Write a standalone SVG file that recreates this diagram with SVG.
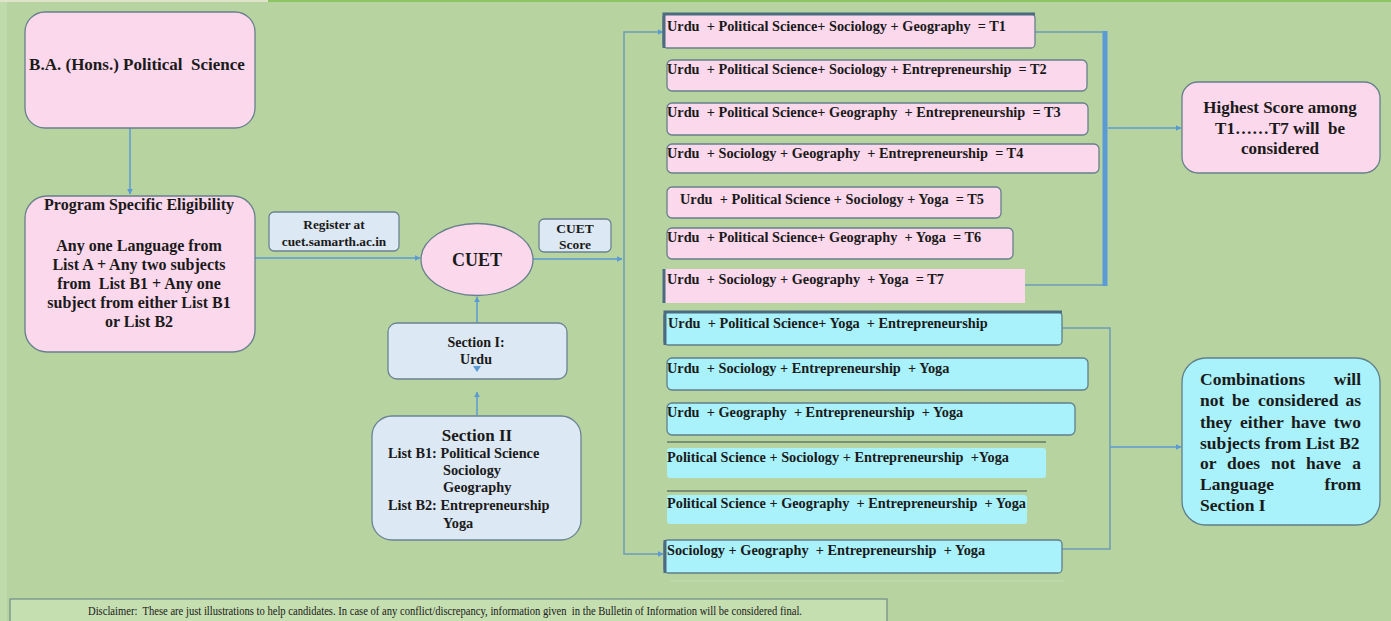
<svg xmlns="http://www.w3.org/2000/svg" width="1391" height="621" viewBox="0 0 1391 621">
<style>
text{font-family:"Liberation Serif","Times New Roman",serif;font-weight:bold;fill:#1a1a1a;white-space:pre}
text.norm{font-weight:normal}
.pk{fill:#fbd8ec;stroke:#687f8c;stroke-width:1.3}
.cy{fill:#a9f2fb;stroke:#5f7f8c;stroke-width:1.3}
.lb{fill:#dce8f3;stroke:#6a8393;stroke-width:1.3}
.row{font-size:14.3px}
.bar{fill:none;stroke:#4a6b80;stroke-width:3}
.ln{fill:none;stroke:#5b9bd5;stroke-width:1.5}
.ln2{fill:none;stroke:#6c9db5;stroke-width:1.5}
.c{text-anchor:middle}
.big{font-size:16px}
</style>
<defs>
<marker id="ah" viewBox="0 0 10 10" refX="9" refY="5" markerWidth="6" markerHeight="6" orient="auto" markerUnits="userSpaceOnUse">
<path d="M0,0 L10,5 L0,10 z" fill="#5b9bd5"/>
</marker>
</defs>
<rect width="1391" height="621" fill="#b6d3a0"/>
<rect x="0" y="0" width="7" height="621" fill="#bfdaab"/>
<rect x="0" y="0" width="268" height="2" fill="#dfe3c9"/>
<rect x="268" y="0" width="1123" height="2" fill="#8cc562"/>

<g id="connectors">
<path class="ln" d="M130,128 V194" marker-end="url(#ah)"/>
<path class="ln" d="M255,258 H420" marker-end="url(#ah)"/>
<path class="ln" d="M533,259 H622" marker-end="url(#ah)"/>
<path class="ln" d="M477,323 V297" marker-end="url(#ah)"/>
<path class="ln" d="M477,415 V392" marker-end="url(#ah)"/>
<path class="ln2" d="M624,259 V32 H663" marker-end="url(#ah)"/>
<path class="ln2" d="M624,259 V554 H663" marker-end="url(#ah)"/>
<path class="ln2" d="M1035,32 H1105 M1025,285 H1105"/>
<path d="M1105,31 V286" stroke="#5b9bd5" stroke-width="5" fill="none"/>
<path class="ln" d="M1108,128 H1181" marker-end="url(#ah)"/>
<path class="ln2" d="M1062,328 H1110 V549 H1062"/>
<path class="ln" d="M1110,447 H1181" marker-end="url(#ah)"/>
</g>

<g id="ba">
<rect class="pk" x="25" y="12" width="230" height="116" rx="20"/>
<text class="c" x="137" y="70" font-size="17">B.A. (Hons.) Political  Science</text>
</g>

<g id="eligibility">
<rect class="pk" x="25" y="196" width="230" height="156" rx="22"/>
<text class="c big" x="139" y="210">Program Specific Eligibility</text>
<text class="c big" x="139" y="251">Any one Language from</text>
<text class="c big" x="139" y="270">List A + Any two subjects</text>
<text class="c big" x="139" y="289">from  List B1 + Any one</text>
<text class="c big" x="139" y="308">subject from either List B1</text>
<text class="c big" x="139" y="327">or List B2</text>
</g>

<g id="register">
<rect class="lb" x="269" y="212" width="130" height="39" rx="5"/>
<text class="c" x="334" y="229" font-size="13.3">Register at</text>
<text class="c" x="334" y="246" font-size="13.3">cuet.samarth.ac.in</text>
</g>

<g id="cuet">
<ellipse cx="477" cy="259.5" rx="56" ry="36" fill="#fbd8ec" stroke="#687f8c" stroke-width="1.3"/>
<text class="c" x="477" y="266" font-size="18">CUET</text>
</g>

<g id="score">
<rect class="lb" x="539" y="219" width="72" height="33" rx="5"/>
<text class="c" x="575" y="233" font-size="13.5">CUET</text>
<text class="c" x="575" y="249" font-size="13.5">Score</text>
</g>

<g id="section1">
<rect class="lb" x="388" y="323" width="179" height="56" rx="9"/>
<text class="c" x="476" y="347" font-size="14">Section I:</text>
<text class="c" x="476" y="364" font-size="14">Urdu</text>
<path d="M473,366 L481,366 L477,372 z" fill="#5b9bd5"/>
</g>

<g id="section2">
<rect class="lb" x="372" y="416" width="209" height="124" rx="20"/>
<text class="c" x="477" y="441" font-size="17">Section II</text>
<text x="388" y="458" font-size="14.3">List B1: Political Science</text>
<text x="443" y="475" font-size="14.3">Sociology</text>
<text x="443" y="492" font-size="14.3">Geography</text>
<text x="388" y="510" font-size="14.3">List B2: Entrepreneurship</text>
<text x="443" y="528" font-size="14.3">Yoga</text>
</g>

<g id="t1">
<rect class="pk" x="663" y="14" width="372" height="34" rx="4"/>
<path class="bar" d="M664,48 V14 H1035"/>
<text class="row" x="667" y="31">Urdu  + Political Science+ Sociology + Geography  = T1</text>
</g>
<g id="t2">
<rect class="pk" x="667" y="60" width="420" height="31" rx="5"/>
<text class="row" x="667" y="74">Urdu  + Political Science+ Sociology + Entrepreneurship  = T2</text>
</g>
<g id="t3">
<rect class="pk" x="667" y="103" width="421" height="32" rx="5"/>
<text class="row" x="667" y="117">Urdu  + Political Science+ Geography  + Entrepreneurship  = T3</text>
</g>
<g id="t4">
<rect class="pk" x="667" y="144" width="432" height="29" rx="5"/>
<text class="row" x="667" y="158">Urdu  + Sociology + Geography  + Entrepreneurship  = T4</text>
</g>
<g id="t5">
<rect class="pk" x="667" y="187" width="334" height="31" rx="5"/>
<text class="row" x="680" y="204">Urdu  + Political Science + Sociology + Yoga  = T5</text>
</g>
<g id="t6">
<rect class="pk" x="667" y="228" width="346" height="31" rx="5"/>
<text class="row" x="667" y="242">Urdu  + Political Science+ Geography  + Yoga  = T6</text>
</g>
<g id="t7">
<rect x="663" y="269" width="362" height="34" fill="#fbd8ec"/>
<path class="bar" d="M664,269 V303"/>
<text class="row" x="667" y="284">Urdu  + Sociology + Geography  + Yoga  = T7</text>
</g>

<g id="highest">
<rect class="pk" x="1182" y="82" width="198" height="91" rx="16"/>
<text class="c" x="1280" y="113" font-size="17">Highest Score among</text>
<text class="c" x="1280" y="134" font-size="17">T1……T7 will  be</text>
<text class="c" x="1280" y="154" font-size="17">considered</text>
</g>

<g id="c1">
<rect class="cy" x="664" y="312" width="398" height="33" rx="4"/>
<path class="bar" d="M665,345 V312 H1062"/>
<text class="row" x="668" y="328">Urdu  + Political Science+ Yoga  + Entrepreneurship</text>
</g>
<g id="c2">
<rect class="cy" x="667" y="358" width="421" height="32" rx="5"/>
<text class="row" x="667" y="373">Urdu  + Sociology + Entrepreneurship  + Yoga</text>
</g>
<g id="c3">
<rect class="cy" x="667" y="403" width="408" height="32" rx="5"/>
<text class="row" x="667" y="417">Urdu  + Geography  + Entrepreneurship  + Yoga</text>
</g>
<g id="c4">
<path d="M667,442 H1046" stroke="#3d4f4a" stroke-width="1.2"/>
<rect x="667" y="448" width="379" height="30" rx="3" fill="#a9f2fb"/>
<text class="row" x="667" y="462">Political Science + Sociology + Entrepreneurship  +Yoga</text>
</g>
<g id="c5">
<path d="M667,491 H1027" stroke="#3d4f4a" stroke-width="1.2"/>
<rect x="667" y="495" width="360" height="29" rx="3" fill="#a9f2fb"/>
<text class="row" x="667" y="508">Political Science + Geography  + Entrepreneurship  + Yoga</text>
</g>
<g id="c6">
<rect class="cy" x="664" y="540" width="398" height="33" rx="4"/>
<path class="bar" d="M665,540 V573"/>
<text class="row" x="667" y="555">Sociology + Geography  + Entrepreneurship  + Yoga</text>
<path d="M670,581 H1063" stroke="#c6dcb4" stroke-width="1"/>
</g>

<g id="combinations" font-size="17.5">
<rect class="cy" x="1182" y="358" width="198" height="167" rx="24"/>
<text x="1200" y="385">Combinations</text><text x="1361" y="385" text-anchor="end">will</text>
<text y="406"><tspan x="1200">not</tspan><tspan x="1232">be</tspan><tspan x="1258">considered</tspan></text><text x="1361" y="406" text-anchor="end">as</text>
<text y="428"><tspan x="1200">they</tspan><tspan x="1240">either</tspan><tspan x="1291">have</tspan></text><text x="1361" y="428" text-anchor="end">two</text>
<text x="1200" y="449">subjects from List B2</text>
<text y="469"><tspan x="1200">or</tspan><tspan x="1227">does</tspan><tspan x="1271">not</tspan><tspan x="1306">have</tspan></text><text x="1361" y="469" text-anchor="end">a</text>
<text x="1200" y="490">Language</text><text x="1361" y="490" text-anchor="end">from</text>
<text x="1200" y="511">Section I</text>
</g>

<g id="disclaimer">
<rect x="10" y="599" width="877" height="30" fill="#c6dfb1" stroke="#6e8d8a" stroke-width="1.2"/>
<text class="norm" x="88" y="615" font-size="11.5" textLength="714" lengthAdjust="spacingAndGlyphs">Disclaimer:  These are just illustrations to help candidates. In case of any conflict/discrepancy, information given  in the Bulletin of Information will be considered final.</text>
</g>
</svg>
